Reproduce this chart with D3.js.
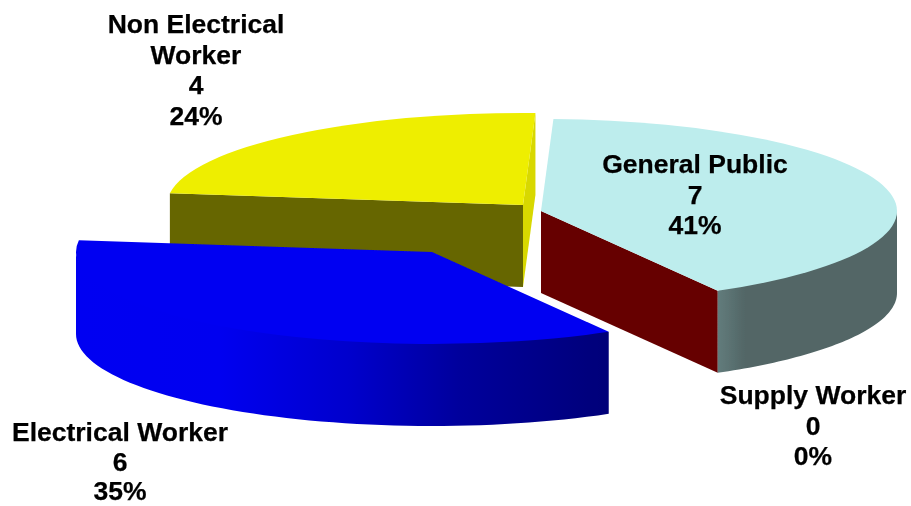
<!DOCTYPE html>
<html><head><meta charset="utf-8">
<script src="https://cdn.jsdelivr.net/npm/d3@7/dist/d3.min.js"></script>
<style>html,body{margin:0;padding:0;background:#fff;overflow:hidden}svg{display:block}
text{font-family:"Liberation Sans",Arial,sans-serif;font-weight:bold;font-size:26.5px;fill:#000;stroke:#000;stroke-width:0.25px;text-anchor:middle}</style>
</head><body><svg id="c" width="911" height="506"></svg>
<script>
const categories = ["General Public", "Supply Worker", "Electrical Worker", "Non Electrical Worker"];
const values = [7, 0, 6, 4];
const labelLines = [["General Public"], ["Supply Worker"], ["Electrical Worker"], ["Non Electrical", "Worker"]];
const topColors = ["#bdeded", "#000000", "#0000f2", "#eeee00"];
const startFaceColors = ["#8a9a9a", "#000000", "#000080", "#666600"];
const endFaceColors = ["#660000", "#000000", "#000080", "#d8d800"];
const wallGradients = [
  [[718, "#627c7c"], [745, "#526666"], [897, "#526666"]],
  [[0, "#000"], [1, "#000"]],
  [[76, "#0000f2"], [220, "#0000f0"], [350, "#0000cc"], [460, "#00009c"], [609, "#000078"]],
  [[0, "#666600"], [1, "#666600"]]
];
// layout
const tips = [[541, 211], [541, 211], [432, 252], [523, 205]];
const labelAt = [[695, 173, 30.5], [813, 404, 30.5], [120, 441, 29.6], [196, 33, 30.5]];
const rx = 356, ry = 92, depth = 82;
const firstAngle = 2 * Math.PI / 180;

const svg = d3.select("#c");
const defs = svg.append("defs");
defs.append("filter").attr("id", "soft").append("feGaussianBlur").attr("stdDeviation", 0.45);
const pieGen = d3.pie().sort(null).startAngle(firstAngle).endAngle(firstAngle + 2 * Math.PI);
const arcs = pieGen(values);
const total = d3.sum(values);
const pct = d3.format(".0%");
const arcTop = d3.arc().innerRadius(0).outerRadius(rx);
const sy = ry / rx;
const line = d3.line();
const root = svg.append("g").attr("filter", "url(#soft)");

const pt = (i, a, dz) => [tips[i][0] + rx * Math.sin(a), tips[i][1] - ry * Math.cos(a) + dz];
// paint back to front
[3, 0, 2].forEach(i => {
  const a = arcs[i], g = root.append("g");
  const tip = tips[i];
  const grad = defs.append("linearGradient").attr("id", "w" + i)
    .attr("gradientUnits", "userSpaceOnUse").attr("x1", wallGradients[i][0][0]).attr("x2", wallGradients[i][wallGradients[i].length - 1][0]).attr("y1", 0).attr("y2", 0);
  const x0 = wallGradients[i][0][0], x1 = wallGradients[i][wallGradients[i].length - 1][0];
  wallGradients[i].forEach(s => grad.append("stop").attr("offset", (s[0] - x0) / (x1 - x0)).attr("stop-color", s[1]));
  // cut faces, only when they turn toward the viewer
  const face = (ang, color) => g.append("path")
    .attr("d", line([tip, pt(i, ang, 0), pt(i, ang, depth), [tip[0], tip[1] + depth]]) + "Z").attr("fill", color);
  if (Math.cos(a.startAngle - Math.PI / 2) < 0) face(a.startAngle, startFaceColors[i]);
  if (Math.cos(a.endAngle + Math.PI / 2) < 0) face(a.endAngle, endFaceColors[i]);
  // outer wall: front half of the rim, its top edge tucked under the top face (not at the ends)
  const lo = Math.max(a.startAngle, Math.PI / 2), hi = Math.min(a.endAngle, 3 * Math.PI / 2);
  if (hi > lo) {
    const n = 60;
    const ks = d3.range(0, n + 1);
    const s = k => lo + (hi - lo) * k / n;
    const ring = ks.map(k => pt(i, s(k), k === 0 || k === n ? 0 : -2))
      .concat(ks.slice().reverse().map(k => pt(i, s(k), depth)));
    g.append("path").attr("d", line(ring) + "Z").attr("fill", `url(#w${i})`);
  }
  // top face
  g.append("path").attr("transform", `translate(${tip[0]},${tip[1]}) scale(1,${sy})`)
    .attr("d", arcTop(a)).attr("fill", topColors[i]);
});

// labels
const labels = svg.append("g").attr("filter", "url(#soft)");
categories.forEach((c, i) => {
  const lines = labelLines[i].concat([String(values[i]), pct(values[i] / total)]);
  lines.forEach((t, k) => labels.append("text").attr("x", labelAt[i][0]).attr("y", labelAt[i][1] + k * labelAt[i][2]).text(t));
});
</script></body></html>
